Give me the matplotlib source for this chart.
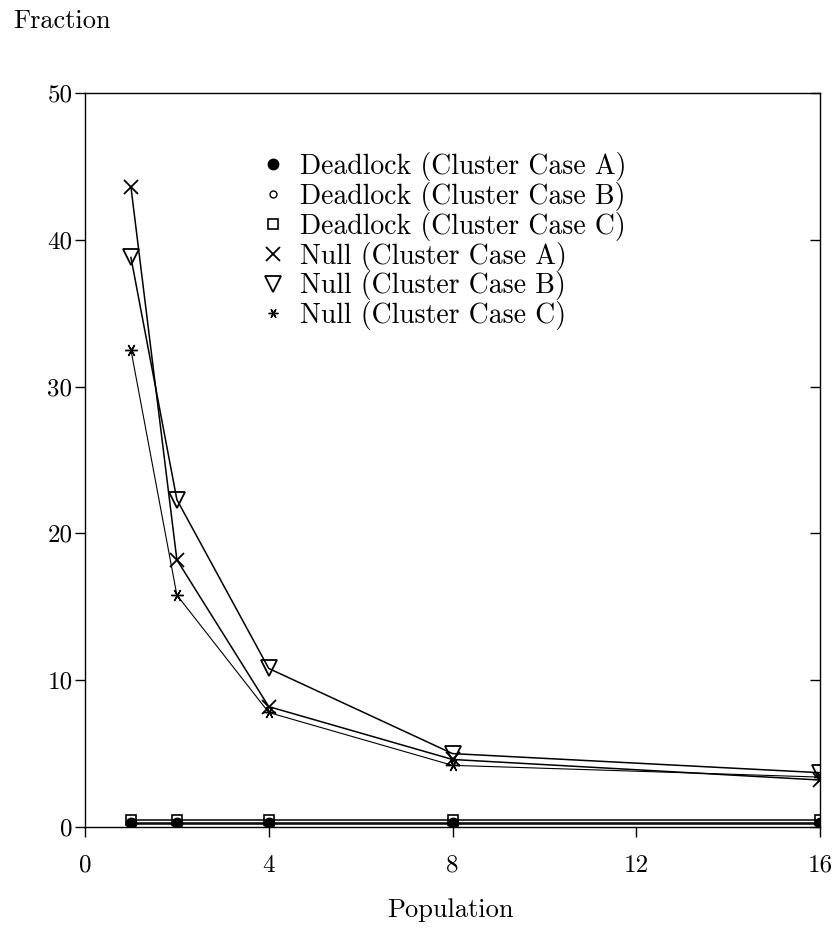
import matplotlib
matplotlib.use("Agg")
import matplotlib.pyplot as plt
from matplotlib.lines import Line2D

plt.rcParams['font.family'] = ['cmr10', 'DejaVu Serif']
plt.rcParams['axes.unicode_minus'] = False
plt.rcParams['mathtext.fontset'] = 'cm'

population = [1, 2, 4, 8, 16]
deadlock_a = [0.3, 0.3, 0.3, 0.3, 0.3]
deadlock_b = [0.2, 0.2, 0.2, 0.2, 0.2]
deadlock_c = [0.45, 0.45, 0.45, 0.45, 0.45]
null_a = [43.6, 18.2, 8.2, 4.6, 3.2]
null_b = [38.8, 22.3, 10.8, 5.0, 3.7]
null_c = [32.5, 15.8, 7.8, 4.2, 3.4]

labels = ["Deadlock (Cluster Case A)", "Deadlock (Cluster Case B)",
          "Deadlock (Cluster Case C)", "Null (Cluster Case A)",
          "Null (Cluster Case B)", "Null (Cluster Case C)"]
x_ticks = [0, 4, 8, 12, 16]
y_ticks = [0, 10, 20, 30, 40, 50]

fig = plt.figure(figsize=(8.36, 9.30), dpi=100)
ax = fig.add_axes([85/836, 1-827/930, (820-85)/836, (827-93)/930])

asterisk = (6, 2, 90)
styles = [
    dict(marker='o', ms=7.5, mfc='black', mec='black'),
    dict(marker='o', ms=5, mfc='white', mec='black', mew=1.0),
    dict(marker='s', ms=7, mfc='none', mec='black', mew=1.2),
    dict(marker='x', ms=10, mfc='none', mec='black', mew=1.3),
    dict(marker='v', ms=12, mfc='none', mec='black', mew=1.3),
    dict(marker=asterisk, ms=9, mfc='none', mec='black', mew=1.0),
]
series = [deadlock_c, deadlock_b, deadlock_a, null_a, null_b, null_c]
order = [2, 1, 0, 3, 4, 5]
for s, idx in zip(series, order):
    lw = 1.1 if idx < 5 else 0.8
    ax.plot(population, s, color='black', lw=lw, zorder=3, **styles[idx])

leg_styles = [dict(st) for st in styles]
leg_styles[5]['ms'] = 7
handles = [Line2D([], [], linestyle='none', color='black', **st) for st in leg_styles]
leg = ax.legend(handles, labels, loc='upper left', bbox_to_anchor=(0.241, 0.9196),
                frameon=False, fontsize=20, handlelength=0.8, handletextpad=0.55,
                labelspacing=0.03, borderaxespad=0.0, borderpad=0.0)

ax.set_xlim(0, 16)
ax.set_ylim(0, 50)
ax.set_xticks(x_ticks)
ax.set_xticklabels([str(v) for v in x_ticks])
ax.set_yticks(y_ticks)
ax.set_yticklabels([str(v) for v in y_ticks])
ax.tick_params(axis='y', which='both', direction='out', length=7, width=1,
               labelsize=18, pad=2, right=True)
ax.tick_params(axis='x', which='both', direction='out', length=7, width=1,
               labelsize=18, pad=13, top=False)
for side in ['left', 'right', 'top', 'bottom']:
    ax.spines[side].set_linewidth(1.0)

# right-side ticks pointing inward
for t in ax.yaxis.get_major_ticks():
    t.tick2line.set_marker(matplotlib.lines.TICKLEFT)
    t.tick2line.set_markersize(7)

fig.text(13/836, 1-28/930, "Fraction", fontsize=19, ha='left', va='baseline')
fig.text(450/836, 1-917/930, "Population", fontsize=19, ha='center', va='baseline')

fig.savefig("out.png", dpi=100)
